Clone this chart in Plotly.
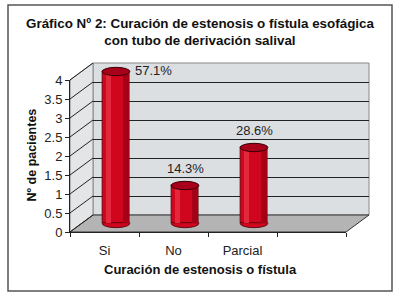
import plotly.graph_objects as go

# ---------------- data ----------------
categories = ["Si", "No", "Parcial"]
patients = [4, 1, 2]
pct_labels = ["57.1%", "14.3%", "28.6%"]
y_ticks = [0, 0.5, 1, 1.5, 2, 2.5, 3, 3.5, 4]
title_text = "<b>Gráfico Nº 2: Curación de estenosis o fístula esofágica<br>con tubo de derivación salival</b>"
x_title = "<b>Curación de estenosis o fístula</b>"
y_title = "<b>Nº de pacientes</b>"

# ---------------- geometry (pixels) ----------------
W, H = 400, 298
FX0, FX1 = 70, 346          # front x-axis extent
FY0, FY4 = 232, 80          # front y pixel for 0 and 4
DX, DY = 23, 17             # depth offset of back wall
YMAX = 4
PPU = (FY0 - FY4) / YMAX    # pixels per unit
cats_all = categories + [" "]


def fx(p):
    return p / W


def fy(p):
    return 1 - p / H


FONT = "Liberation Sans, Arial, sans-serif"
RED = "#d0061e"
WALL = "#dcdfe2"
SIDE = "#e3e5e7"
FLOOR = "#b4b4b4"

fig = go.Figure()

fig.add_trace(go.Scatter(x=cats_all, y=[None] * 4, xaxis="x", yaxis="y",
                         mode="markers", showlegend=False, hoverinfo="skip"))
fig.add_trace(go.Scatter(x=[0], y=[None], xaxis="x2", yaxis="y2",
                         mode="markers", showlegend=False, hoverinfo="skip"))

fig.add_trace(go.Bar(x=categories, y=patients, xaxis="x3", yaxis="y3",
                     width=0.4, marker=dict(color=RED, line=dict(color="#4a0008", width=0.8)),
                     showlegend=False, hoverinfo="skip"))
fig.add_trace(go.Bar(x=categories, y=patients, xaxis="x3", yaxis="y3",
                     width=0.09, offset=0.09, marker=dict(color="#a60016", line=dict(width=0)),
                     showlegend=False, hoverinfo="skip"))
fig.add_trace(go.Bar(x=categories, y=patients, xaxis="x3", yaxis="y3",
                     width=0.07, offset=-0.15, marker=dict(color="#e3283b", line=dict(width=0)),
                     showlegend=False, hoverinfo="skip"))

MPAD = 0.3
mid_x0 = FX0 + DX / 2
mid_y0 = FY0 - DY / 2
shapes = []

shapes.append(dict(type="rect", xref="paper", yref="paper", x0=fx(8), x1=fx(392), y0=fy(291), y1=fy(5),
                   line=dict(color="#555555", width=1.5), layer="below"))
shapes.append(dict(type="rect", xref="paper", yref="paper", x0=fx(FX0 + DX), x1=fx(FX1 + DX),
                   y0=fy(FY0 - DY), y1=fy(FY4 - DY), fillcolor=WALL,
                   line=dict(color="#888888", width=1), layer="below"))
shapes.append(dict(type="path", xref="paper", yref="paper",
                   path=f"M{fx(FX0)},{fy(FY0)} L{fx(FX0)},{fy(FY4)} L{fx(FX0+DX)},{fy(FY4-DY)} L{fx(FX0+DX)},{fy(FY0-DY)} Z",
                   fillcolor=SIDE, line=dict(color="#888888", width=1), layer="below"))
shapes.append(dict(type="path", xref="paper", yref="paper",
                   path=f"M{fx(FX0)},{fy(FY0)} L{fx(FX1)},{fy(FY0)} L{fx(FX1+DX)},{fy(FY0-DY)} L{fx(FX0+DX)},{fy(FY0-DY)} Z",
                   fillcolor=FLOOR, line=dict(color="#333333", width=1), layer="below"))
for v in y_ticks:
    py = FY0 - v * PPU
    shapes.append(dict(type="line", xref="paper", yref="paper", x0=fx(FX0), y0=fy(py),
                       x1=fx(FX0 + DX), y1=fy(py - DY), line=dict(color="#222222", width=1), layer="below"))

EH = 0.11
for i, v in enumerate(patients):
    shapes.append(dict(type="circle", xref="x3", yref="y3", x0=i - 0.2, x1=i + 0.2, y0=-EH, y1=EH,
                       fillcolor=RED, line=dict(color="#4a0008", width=0.8), layer="below"))
    shapes.append(dict(type="circle", xref="x3", yref="y3", x0=i - 0.2, x1=i + 0.2, y0=v - EH, y1=v + EH,
                       fillcolor="#a8001a", line=dict(color="#3a0005", width=1), layer="above"))

annotations = []
label_shift = [(37, 1), (0, 17), (0, 17)]
for i, (c, v, t) in enumerate(zip(categories, patients, pct_labels)):
    sx, sy = label_shift[i]
    annotations.append(dict(x=c, y=v, xref="x3", yref="y3", text=t, showarrow=False,
                            xshift=sx, yshift=sy, font=dict(family=FONT, size=13, color="#222222")))
annotations.append(dict(x=0.5, y=fy(32), xref="paper", yref="paper", text=title_text, showarrow=False,
                        xanchor="center", yanchor="middle",
                        font=dict(family=FONT, size=13.4, color="#111111"), align="center"))
annotations.append(dict(x=fx(201), y=fy(269), xref="paper", yref="paper", text=x_title, showarrow=False,
                        xanchor="center", yanchor="middle",
                        font=dict(family=FONT, size=13, color="#111111")))
annotations.append(dict(x=fx(31), y=fy(155.5), xref="paper", yref="paper", text=y_title, showarrow=False,
                        xanchor="center", yanchor="middle",
                        textangle=-90, font=dict(family=FONT, size=12.5, color="#111111")))

fig.update_layout(
    width=W, height=H, autosize=False,
    margin=dict(l=0, r=0, t=0, b=0),
    paper_bgcolor="white", plot_bgcolor="rgba(0,0,0,0)",
    barmode="overlay", bargap=0,
    shapes=shapes, annotations=annotations,
    xaxis=dict(domain=[fx(FX0), fx(FX1)], type="category", categoryorder="array", categoryarray=cats_all,
               range=[-0.5, 3.5], tickson="boundaries", ticks="outside", ticklen=4, tickcolor="#222222",
               showline=True, linecolor="#222222", linewidth=1, showgrid=False, zeroline=False,
               ticklabelstandoff=6,
               tickfont=dict(family=FONT, size=13, color="#222222"), automargin=False, fixedrange=True),
    yaxis=dict(domain=[fy(FY0), fy(FY4)], range=[0, YMAX], tickvals=y_ticks, ticks="outside", ticklen=4,
               tickcolor="#222222", showline=True, linecolor="#222222", linewidth=1, showgrid=False,
               zeroline=False, tickfont=dict(family=FONT, size=13, color="#222222"), automargin=False),
    xaxis2=dict(domain=[fx(FX0 + DX), fx(FX1 + DX)], range=[0, 1], visible=False, anchor="y2"),
    yaxis2=dict(domain=[fy(FY0 - DY), fy(FY4 - DY)], range=[0, YMAX], tickvals=y_ticks, showgrid=True,
                gridcolor="#222222", gridwidth=1, showticklabels=False, ticks="", zeroline=False,
                showline=False, anchor="x2"),
    xaxis3=dict(domain=[fx(mid_x0), fx(mid_x0 + FX1 - FX0)], type="category", categoryorder="array",
                categoryarray=cats_all, range=[-0.5, 3.5], visible=False, anchor="y3"),
    yaxis3=dict(domain=[fy(mid_y0 + MPAD * PPU), fy(mid_y0 - (YMAX + MPAD) * PPU)],
                range=[-MPAD, YMAX + MPAD], visible=False, anchor="x3"),
)

fig.write_html("out.html", config={"displayModeBar": False},
               post_script="document.body.style.margin='0';document.body.style.overflow='hidden';")
